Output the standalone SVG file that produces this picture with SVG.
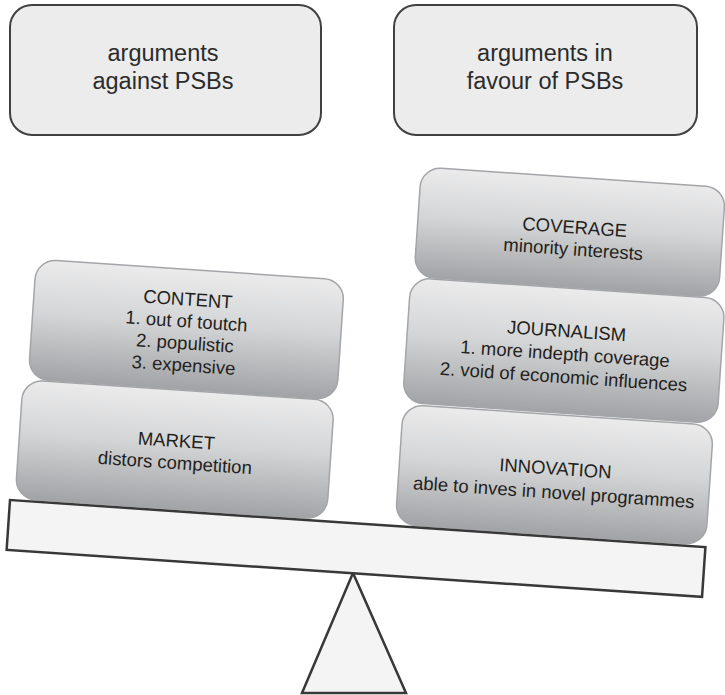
<svg xmlns="http://www.w3.org/2000/svg" width="725" height="695" viewBox="0 0 725 695">
  <defs>
    <linearGradient id="blockGrad" x1="0" y1="0" x2="0" y2="1">
      <stop offset="0" stop-color="#ebebec"/>
      <stop offset="0.45" stop-color="#d4d5d6"/>
      <stop offset="1" stop-color="#a2a3a6"/>
    </linearGradient>
  </defs>
  <style>
    .head { fill: #ececec; stroke: #404040; stroke-width: 2; }
    .headtxt { font-family: "Liberation Sans", Arial, sans-serif; font-size: 23.5px; fill: #2b2b2b; text-anchor: middle; }
    .block { fill: url(#blockGrad); stroke: #a4a5a8; stroke-width: 1.5; }
    .btxt { font-family: "Liberation Sans", Arial, sans-serif; font-size: 18.5px; fill: #231f20; text-anchor: middle; }
    .wood { fill: #f3f4f3; stroke: #383838; stroke-width: 2.5; stroke-linejoin: miter; }
  </style>

  <g id="against">
    <rect class="head" x="10" y="5" width="311" height="130" rx="22"/>
    <text class="headtxt" x="163" y="61">arguments</text>
    <text class="headtxt" x="163" y="89">against PSBs</text>
  </g>
  <g id="favour">
    <rect class="head" x="394" y="5" width="303" height="130" rx="22"/>
    <text class="headtxt" x="545" y="61">arguments in</text>
    <text class="headtxt" x="545" y="89">favour of PSBs</text>
  </g>

  <g transform="translate(10,500) rotate(3.87)">
    <g id="content">
      <rect class="block" x="10" y="-242" width="309" height="120" rx="20"/>
      <text class="btxt" x="164" y="-206">CONTENT</text>
      <text class="btxt" x="164" y="-184">1. out of toutch</text>
      <text class="btxt" x="164" y="-162">2. populistic</text>
      <text class="btxt" x="164" y="-140">3. expensive</text>
    </g>
    <g id="market">
      <rect class="block" x="5" y="-121" width="312" height="119" rx="20"/>
      <text class="btxt" x="162" y="-64">MARKET</text>
      <text class="btxt" x="162" y="-42">distors competition</text>
    </g>
    <g id="coverage">
      <rect class="block" x="388" y="-360" width="305" height="110" rx="20"/>
      <text class="btxt" x="545" y="-304">COVERAGE</text>
      <text class="btxt" x="545" y="-282">minority interests</text>
    </g>
    <g id="journalism">
      <rect class="block" x="385" y="-249" width="315" height="125" rx="20"/>
      <text class="btxt" x="544" y="-200">JOURNALISM</text>
      <text class="btxt" x="544" y="-177">1. more indepth coverage</text>
      <text class="btxt" x="544" y="-154">2. void of economic influences</text>
    </g>
    <g id="innovation">
      <rect class="block" x="386" y="-122" width="311" height="120" rx="20"/>
      <text class="btxt" x="542" y="-62">INNOVATION</text>
      <text class="btxt" x="542" y="-38">able to inves in novel programmes</text>
    </g>
  </g>

  <g id="fulcrum">
    <polygon class="wood" points="353,573 302,693 406,693"/>
  </g>
  <g id="beam">
    <rect class="wood" x="0" y="0" width="697" height="50" transform="translate(10,500) rotate(3.87)"/>
  </g>
</svg>
